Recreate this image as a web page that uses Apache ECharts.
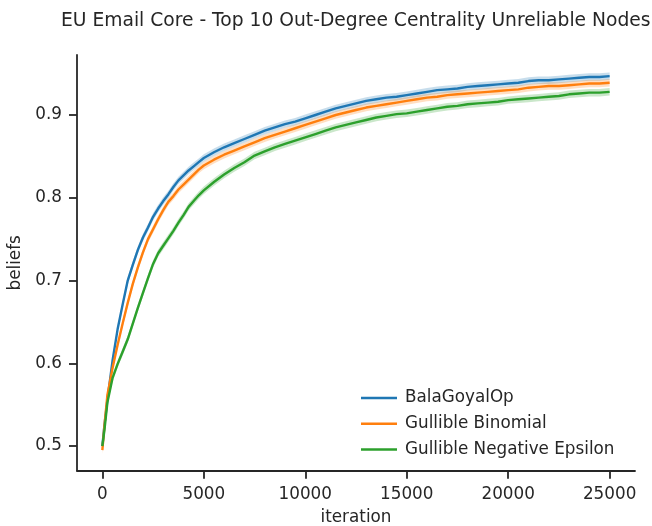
<!DOCTYPE html>
<html><head><meta charset="utf-8">
<script src="https://cdn.jsdelivr.net/npm/echarts@6/dist/echarts.min.js"></script>
<style>html,body{margin:0;padding:0;background:#fff}#c{width:652px;height:526px}</style>
</head><body><div id="c"></div>
<script>
const iterations = [0,100,250,500,750,1000,1250,1500,1750,2000,2250,2500,2750,3000,3250,3500,3750,4000,4250,4500,4750,5000,
  5500,6000,6500,7000,7500,8000,8500,9000,9500,10000,
  10500,11000,11500,12000,12500,13000,13500,14000,14500,15000,
  15500,16000,16500,17000,17500,18000,18500,19000,19500,20000,
  20500,21000,21500,22000,22500,23000,23500,24000,24500,25000];

const balaGoyalOp = [0.500,0.525,0.556,0.603,0.641,0.671,0.700,0.719,0.737,0.752,0.764,0.777,0.787,0.796,0.804,0.813,0.821,0.827,0.833,0.838,0.843,0.848,
  0.855,0.861,0.866,0.871,0.876,0.881,0.885,0.889,0.892,0.896,
  0.900,0.904,0.908,0.911,0.914,0.917,0.919,0.921,0.922,0.924,
  0.926,0.928,0.930,0.931,0.932,0.934,0.935,0.936,0.937,0.938,
  0.939,0.941,0.942,0.942,0.943,0.944,0.945,0.946,0.946,0.947];

const gullibleBinomial = [0.495,0.524,0.562,0.594,0.622,0.648,0.673,0.696,0.716,0.734,0.750,0.762,0.774,0.785,0.795,0.802,0.810,0.816,0.822,0.828,0.834,0.839,
  0.846,0.852,0.857,0.862,0.867,0.872,0.876,0.880,0.884,0.888,
  0.892,0.896,0.900,0.903,0.906,0.909,0.911,0.913,0.915,0.917,
  0.919,0.921,0.922,0.924,0.925,0.926,0.927,0.928,0.929,0.930,
  0.931,0.933,0.934,0.935,0.935,0.936,0.937,0.938,0.938,0.939];

const gullibleNegEpsilon = [0.500,0.519,0.553,0.582,0.599,0.614,0.629,0.648,0.667,0.685,0.703,0.720,0.733,0.742,0.751,0.760,0.770,0.779,0.789,0.796,0.803,0.809,
  0.819,0.828,0.836,0.843,0.851,0.856,0.861,0.865,0.869,0.873,
  0.877,0.881,0.885,0.888,0.891,0.894,0.897,0.899,0.901,0.902,
  0.904,0.906,0.908,0.910,0.911,0.913,0.914,0.915,0.916,0.918,
  0.919,0.920,0.921,0.922,0.923,0.925,0.926,0.927,0.927,0.928];

// half-width of the confidence band around each mean
const balaGoyalOpCi = 0.0045;
const gullibleBinomialCi = 0.0045;
const gullibleNegEpsilonCi = 0.0045;

const seriesNames = ['BalaGoyalOp', 'Gullible Binomial', 'Gullible Negative Epsilon'];
const xTicks = [0, 5000, 10000, 15000, 20000, 25000];
const yTicks = [0.5, 0.6, 0.7, 0.8, 0.9];

const colors = ['#1f77b4', '#ff7f0e', '#2ca02c'];
const bandColors = ['rgba(31,119,180,0.25)', 'rgba(255,127,14,0.25)', 'rgba(44,160,44,0.25)'];
const FONT = 'DejaVu Sans';
const TXT = '#262626';

function lineSeries(name, vals, color) {
  return {
    type: 'line', name: name, data: iterations.map((x, i) => [x, vals[i]]),
    showSymbol: false, symbol: 'none', smooth: false, z: 3,
    lineStyle: { color: color, width: 2.4 }, itemStyle: { color: color },
    emphasis: { disabled: true }, animation: false
  };
}
function bandSeries(name, vals, half, color) {
  return {
    type: 'custom', name: name + ' band', silent: true, z: 2, animation: false,
    data: iterations.map((x, i) => [x, vals[i]]),
    encode: { x: 0, y: 1 },
    renderItem: function (params, api) {
      if (params.dataIndex !== 0) return null;
      const upper = iterations.map((x, i) => api.coord([x, vals[i] + half]));
      const lower = iterations.map((x, i) => api.coord([x, vals[i] - half])).reverse();
      return { type: 'polygon', shape: { points: upper.concat(lower) }, style: { fill: color } };
    }
  };
}

const chart = echarts.init(document.getElementById('c'), null, { renderer: 'canvas' });
chart.setOption({
  animation: false,
  backgroundColor: '#ffffff',
  title: {
    text: 'EU Email Core - Top 10 Out-Degree Centrality Unreliable Nodes',
    left: 61, top: 12, padding: 0,
    textStyle: { fontFamily: FONT, fontSize: 18.7, fontWeight: 'normal', color: TXT }
  },
  grid: { left: 77, right: 17, top: 55, bottom: 55.3, containLabel: false, outerBoundsMode: 'none' },
  legend: {
    data: seriesNames, orient: 'vertical', left: 356, top: 383,
    icon: 'rect', itemWidth: 36, itemHeight: 2.5, itemGap: 5.7,
    textStyle: { fontFamily: FONT, fontSize: 16.8, color: TXT, lineHeight: 20, padding: [0, 0, 0, 3] }
  },
  xAxis: {
    type: 'value', min: -1250, max: 26250,
    name: 'iteration', nameLocation: 'middle', nameGap: 38,
    nameTextStyle: { fontFamily: FONT, fontSize: 16.8, color: TXT },
    axisLine: { show: true, onZero: false, lineStyle: { color: TXT, width: 1.8 } },
    axisTick: { show: true, customValues: xTicks, length: 8, lineStyle: { color: TXT, width: 1.8 } },
    axisLabel: { customValues: xTicks, fontFamily: FONT, fontSize: 16.8, color: TXT, margin: 15,
      formatter: v => String(v) },
    splitLine: { show: false }
  },
  yAxis: {
    type: 'value', min: 0.4702, max: 0.9725,
    name: 'beliefs', nameLocation: 'middle', nameGap: 46, nameRotate: 90,
    nameTextStyle: { fontFamily: FONT, fontSize: 16.8, color: TXT },
    axisLine: { show: true, onZero: false, lineStyle: { color: TXT, width: 1.8 } },
    axisTick: { show: true, customValues: yTicks, length: 8, lineStyle: { color: TXT, width: 1.8 } },
    axisLabel: { customValues: yTicks, fontFamily: FONT, fontSize: 16.8, color: TXT, margin: 15,
      formatter: v => v.toFixed(1) },
    splitLine: { show: false }
  },
  series: [
    bandSeries(seriesNames[0], balaGoyalOp, balaGoyalOpCi, bandColors[0]),
    bandSeries(seriesNames[1], gullibleBinomial, gullibleBinomialCi, bandColors[1]),
    bandSeries(seriesNames[2], gullibleNegEpsilon, gullibleNegEpsilonCi, bandColors[2]),
    lineSeries(seriesNames[0], balaGoyalOp, colors[0]),
    lineSeries(seriesNames[1], gullibleBinomial, colors[1]),
    lineSeries(seriesNames[2], gullibleNegEpsilon, colors[2])
  ]
});
</script>
</body></html>
